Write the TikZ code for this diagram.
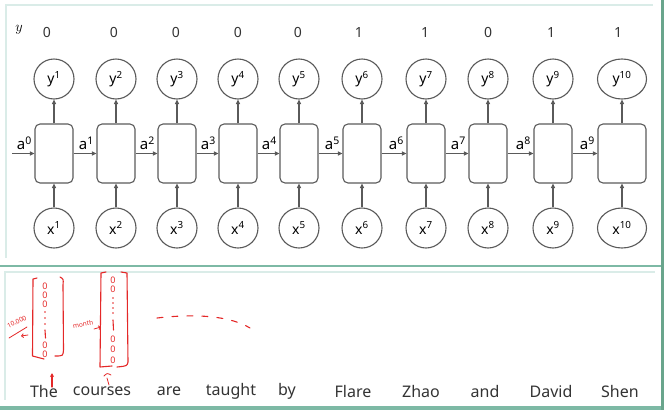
\documentclass[tikz,border=0pt]{standalone}
\usepackage{fontspec}
\setmainfont{Noto Sans}
\usepackage{xcolor}
\definecolor{linegray}{RGB}{90,90,90}
\definecolor{framegreen}{RGB}{125,185,165}
\definecolor{framelight}{RGB}{218,236,232}
\definecolor{bargreen}{RGB}{105,165,140}
\definecolor{penred}{RGB}{228,40,40}
\usepackage{tikz}
\usetikzlibrary{shapes.geometric, arrows.meta}

\begin{document}
\begin{tikzpicture}[x=1pt, y=-1pt,
	cell/.style={rectangle, draw=linegray, rounded corners=5pt, line width=1.1pt,
	             minimum width=38pt, minimum height=59pt, inner sep=0pt},
	outc/.style={circle, draw=linegray, line width=1.1pt, minimum size=40pt, inner sep=0pt,
	             font=\fontsize{14}{16}\selectfont},
	wide/.style={ellipse, minimum width=49pt, minimum height=40pt},
	tag/.style={font=\fontsize{14}{16}\selectfont, text=black!80},
	arr/.style={-{Triangle[length=4.5pt, width=4pt]}, draw=linegray, line width=1.1pt},
	alab/.style={font=\fontsize{15}{17}\selectfont, anchor=south east, pos=1,
	             inner sep=1pt, xshift=-1pt, yshift=2pt},
	word/.style={font=\fontsize{16}{18}\selectfont, text=black!80},
	pen/.style={draw=penred, line width=1.1pt, line cap=round, line join=round},
	ink/.style={text=penred, font=\fontsize{9}{9}\selectfont, inner sep=0pt}
	]
\useasboundingbox (0,0) rectangle (664,410);

% panel frames
\draw[framelight, line width=1.2pt] (6,258) -- (6,5) -- (653,5);
\draw[framelight, line width=1.2pt] (5,400) -- (5,272) -- (655,272);
\fill[framegreen] (0,264.5) rectangle (661,266.5);
\fill[framegreen] (0,405.5) rectangle (661,410);
\fill[bargreen] (660.5,0) rectangle (664,410);

% labels on top
\node[font=\fontsize{15}{17}\selectfont] (ylab) at (19,30) {$y$};
\node[tag] (t1) at (47,32) {0};
\node[tag] (t2) at (114,32) {0};
\node[tag] (t3) at (176,32) {0};
\node[tag] (t4) at (238,32) {0};
\node[tag] (t5) at (298,32) {0};
\node[tag] (t6) at (359,32) {1};
\node[tag] (t7) at (425,32) {1};
\node[tag] (t8) at (488,32) {0};
\node[tag] (t9) at (551,32) {1};
\node[tag] (t10) at (618,32) {1};

% outputs
\node[outc] (y1) at (54,79) {y\textsuperscript{1}};
\node[outc] (y2) at (116,79) {y\textsuperscript{2}};
\node[outc] (y3) at (177,79) {y\textsuperscript{3}};
\node[outc] (y4) at (238,79) {y\textsuperscript{4}};
\node[outc] (y5) at (299,79) {y\textsuperscript{5}};
\node[outc] (y6) at (362,79) {y\textsuperscript{6}};
\node[outc] (y7) at (426,79) {y\textsuperscript{7}};
\node[outc] (y8) at (488,79) {y\textsuperscript{8}};
\node[outc] (y9) at (553,79) {y\textsuperscript{9}};
\node[outc, wide] (y10) at (622,79) {y\textsuperscript{10}};

% cells
\node[cell] (h1) at (54,153.5) {};
\node[cell] (h2) at (116,153.5) {};
\node[cell] (h3) at (177,153.5) {};
\node[cell] (h4) at (238,153.5) {};
\node[cell] (h5) at (299,153.5) {};
\node[cell] (h6) at (362,153.5) {};
\node[cell] (h7) at (426,153.5) {};
\node[cell] (h8) at (488,153.5) {};
\node[cell] (h9) at (553,153.5) {};
\node[cell, minimum width=48pt] (h10) at (622,153.5) {};

% inputs
\node[outc] (x1) at (54,228) {x\textsuperscript{1}};
\node[outc] (x2) at (116,228) {x\textsuperscript{2}};
\node[outc] (x3) at (177,228) {x\textsuperscript{3}};
\node[outc] (x4) at (238,228) {x\textsuperscript{4}};
\node[outc] (x5) at (299,228) {x\textsuperscript{5}};
\node[outc] (x6) at (362,228) {x\textsuperscript{6}};
\node[outc] (x7) at (426,228) {x\textsuperscript{7}};
\node[outc] (x8) at (488,228) {x\textsuperscript{8}};
\node[outc] (x9) at (553,228) {x\textsuperscript{9}};
\node[outc, wide] (x10) at (622,228) {x\textsuperscript{10}};

% connectors
\coordinate (a0) at (12,153.5);
\draw[arr] (a0) -- (h1) node[alab] {a\textsuperscript{0}};
\draw[arr] (h1) -- (h2) node[alab] {a\textsuperscript{1}};
\draw[arr] (h2) -- (h3) node[alab] {a\textsuperscript{2}};
\draw[arr] (h3) -- (h4) node[alab] {a\textsuperscript{3}};
\draw[arr] (h4) -- (h5) node[alab] {a\textsuperscript{4}};
\draw[arr] (h5) -- (h6) node[alab] {a\textsuperscript{5}};
\draw[arr] (h6) -- (h7) node[alab] {a\textsuperscript{6}};
\draw[arr] (h7) -- (h8) node[alab] {a\textsuperscript{7}};
\draw[arr] (h8) -- (h9) node[alab] {a\textsuperscript{8}};
\draw[arr] (h9) -- (h10) node[alab] {a\textsuperscript{9}};

\draw[arr] (h1) -- (y1);  \draw[arr] (x1) -- (h1);
\draw[arr] (h2) -- (y2);  \draw[arr] (x2) -- (h2);
\draw[arr] (h3) -- (y3);  \draw[arr] (x3) -- (h3);
\draw[arr] (h4) -- (y4);  \draw[arr] (x4) -- (h4);
\draw[arr] (h5) -- (y5);  \draw[arr] (x5) -- (h5);
\draw[arr] (h6) -- (y6);  \draw[arr] (x6) -- (h6);
\draw[arr] (h7) -- (y7);  \draw[arr] (x7) -- (h7);
\draw[arr] (h8) -- (y8);  \draw[arr] (x8) -- (h8);
\draw[arr] (h9) -- (y9);  \draw[arr] (x9) -- (h9);
\draw[arr] (h10) -- (y10);  \draw[arr] (x10) -- (h10);

% sentence
\node[word] (w1) at (44,391) {The};
\node[word] (w2) at (102,391) {courses};
\node[word] (w3) at (169,391) {are};
\node[word] (w4) at (231,391) {taught};
\node[word] (w5) at (287,391) {by};
\node[word] (w6) at (353,391) {Flare};
\node[word] (w7) at (421,391) {Zhao};
\node[word] (w8) at (485,391) {and};
\node[word] (w9) at (551,391) {David};
\node[word] (w10) at (620,391) {Shen};

% red handwriting: first one-hot vector
\draw[pen] (37,278) -- (33,279) -- (32.5,356) -- (44,359);
\draw[pen] (60,277) .. controls (63.5,279) .. (63,285) -- (63.5,350) .. controls (63,356) .. (55,356);
\node[ink] (v1a) at (45,286) {0};
\node[ink] (v1b) at (45,295) {0};
\node[ink] (v1c) at (45,304) {0};
\fill[penred] (45,312) circle (0.9) (45,318) circle (0.9) (45,324) circle (0.9);
\draw[pen] (45,330) -- (45.5,338);
\node[ink] (v1d) at (45,345) {0};
\node[ink] (v1e) at (45,354) {0};
\node[ink, rotate=25, font=\fontsize{6.5}{6.5}\selectfont] (n1) at (17,322) {10,000};
\draw[pen, line width=0.8pt] (9,338) -- (27,327);
\draw[pen, line width=0.8pt, -{Straight Barb[length=2pt]}] (28,335) -- (21,336);

% second one-hot vector
\draw[pen] (106,272) -- (101,273) -- (100,367) -- (112,366);
\draw[pen] (121,272) -- (127,273) -- (128,362) .. controls (127,366) .. (117,367);
\node[ink] (v2a) at (113,280) {0};
\node[ink] (v2b) at (113,289) {0};
\fill[penred] (113,298) circle (0.9) (113,303) circle (0.9) (113,308) circle (0.9) (113,313) circle (0.9);
\draw[pen] (113,320) -- (113.5,330);
\node[ink] (v2c) at (113,339) {0};
\node[ink] (v2d) at (113,349) {0};
\node[ink] (v2e) at (113,360) {0};
\node[ink, rotate=10, font=\fontsize{6.5}{6.5}\selectfont] (n2) at (83,324) {month};
\draw[pen, line width=0.8pt, -{Straight Barb[length=2pt]}] (94,329) -- (101,327);

% dashes
\draw[pen, dash pattern=on 6pt off 9pt] (157,318) .. controls (200,313) and (232,317) .. (250,328);

% marks under the words
\draw[pen, -{Stealth[length=4pt, width=4pt]}] (52,387) -- (52,373);
\draw[pen, line width=0.8pt] (104,376) .. controls (107,373) .. (111,375);
\draw[pen, line width=0.8pt] (107,378) -- (109,385);
\end{tikzpicture}
\end{document}
